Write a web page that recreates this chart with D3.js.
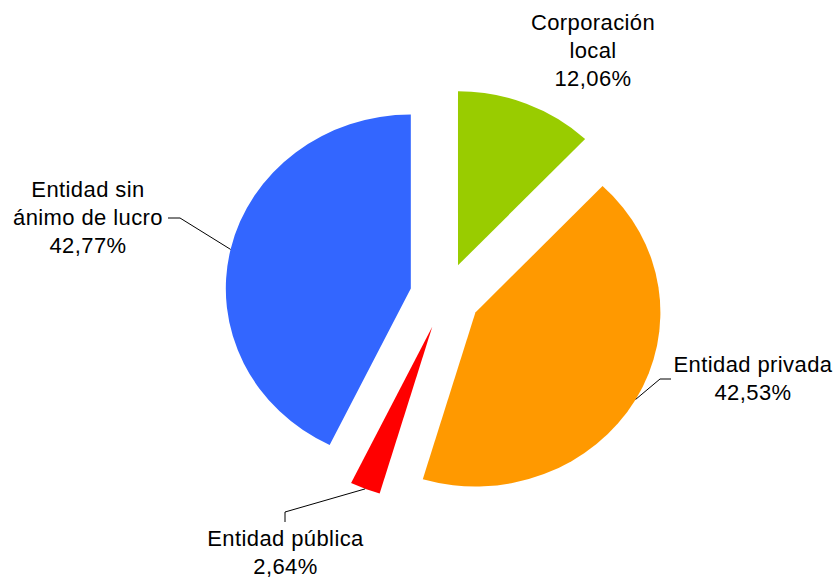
<!DOCTYPE html>
<html>
<head>
<meta charset="utf-8">
<script src="https://cdn.jsdelivr.net/npm/d3@7/dist/d3.min.js"></script>
<style>
  html, body { margin: 0; padding: 0; background: #ffffff; }
  svg { display: block; }
  text { font-family: "Liberation Sans", Arial, sans-serif; font-size: 22px; fill: #000; letter-spacing: 0.4px; }
</style>
</head>
<body>
<svg id="chart" width="837" height="579"></svg>
<script>
// ---- data ----
const categories = ["Corporación local", "Entidad privada", "Entidad pública", "Entidad sin ánimo de lucro"];
const values = [12.06, 42.53, 2.64, 42.77];
const labelLines = [["Corporación", "local"], ["Entidad privada"], ["Entidad pública"], ["Entidad sin", "ánimo de lucro"]];
const colors = ["#99CC00", "#FF9900", "#FF0000", "#3366FF"];

// ---- layout ----
const cx = 445, cy = 296;
const ry = 174, rx = 185;
const sx = rx / ry;
const explode = 33;
const lineH = 28;
const labelLayout = [
  { x: 593, y: 30, leader: null },
  { x: 753, y: 372, leader: { elbow: [660, 379], stub: [671, 379] } },
  { x: 285.5, y: 546, leader: { elbow: [285, 512], stub: [285, 522] } },
  { x: 88, y: 197, leader: { elbow: [180, 218], stub: [168, 218] } }
];

const svg = d3.select("#chart");
const data = categories.map((c, i) => ({ name: c, value: values[i], i }));
const pie = d3.pie().sort(null).value(d => d.value).startAngle(0).endAngle(2 * Math.PI);
const arcs = pie(data);
const arc = d3.arc().innerRadius(0).outerRadius(ry);

const fmt = v => v.toFixed(2).replace(".", ",") + "%";

const slices = svg.append("g")
  .attr("transform", `translate(${cx},${cy}) scale(${sx},1)`);

slices.selectAll("path")
  .data(arcs)
  .join("path")
  .attr("d", arc)
  .attr("fill", d => colors[d.data.i])
  .attr("transform", d => {
    const m = (d.startAngle + d.endAngle) / 2;
    return `translate(${explode * Math.sin(m)},${-explode * Math.cos(m)})`;
  });

// leader lines
arcs.forEach(d => {
  const L = labelLayout[d.data.i];
  if (!L.leader) return;
  const m = (d.startAngle + d.endAngle) / 2;
  const px = cx + sx * (explode + ry) * Math.sin(m);
  const py = cy - (explode + ry) * Math.cos(m);
  svg.append("polyline")
    .attr("points", [[px, py], L.leader.elbow, L.leader.stub].map(p => p.join(",")).join(" "))
    .attr("fill", "none")
    .attr("stroke", "#000")
    .attr("stroke-width", 1);
});

// labels
arcs.forEach(d => {
  const L = labelLayout[d.data.i];
  const lines = labelLines[d.data.i].concat([fmt(d.data.value)]);
  const t = svg.append("text")
    .attr("text-anchor", "middle")
    .attr("x", L.x)
    .attr("y", L.y);
  lines.forEach((ln, k) => {
    t.append("tspan")
      .attr("x", L.x)
      .attr("dy", k === 0 ? 0 : lineH)
      .text(ln);
  });
});
</script>
</body>
</html>
